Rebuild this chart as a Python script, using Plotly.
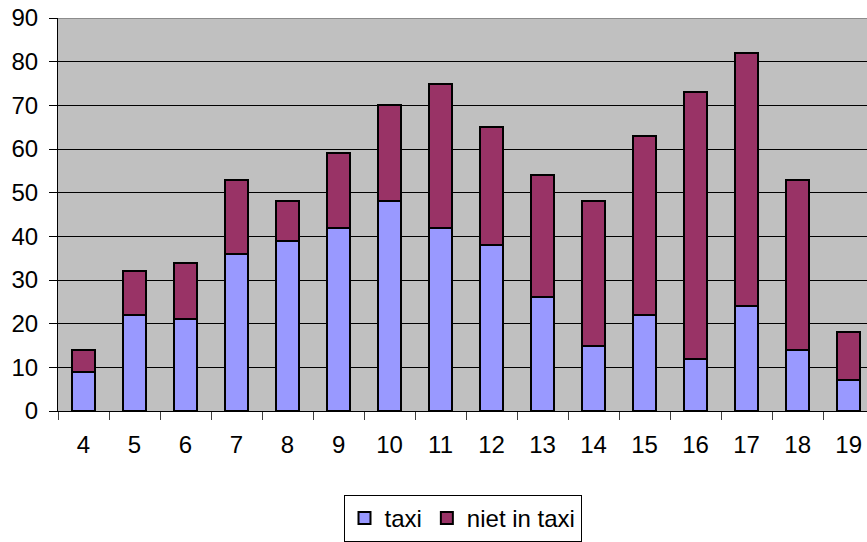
import plotly.graph_objects as go

categories = ["4", "5", "6", "7", "8", "9", "10", "11", "12", "13", "14", "15", "16", "17", "18", "19"]
taxi = [9, 22, 21, 36, 39, 42, 48, 42, 38, 26, 15, 22, 12, 24, 14, 7]
niet_in_taxi = [5, 10, 13, 17, 9, 17, 22, 33, 27, 28, 33, 41, 61, 58, 39, 11]

FONT = "Liberation Sans, Arial, sans-serif"

fig = go.Figure()
fig.add_trace(go.Bar(x=categories, y=taxi, name="taxi", width=0.45,
                     marker=dict(color="#9999FF", line=dict(color="black", width=2))))
fig.add_trace(go.Bar(x=categories, y=niet_in_taxi, name="niet in taxi", width=0.45,
                     marker=dict(color="#993366", line=dict(color="black", width=2))))

fig.update_layout(
    width=867, height=542,
    margin=dict(l=58, r=0, t=18, b=130),
    barmode="stack",
    plot_bgcolor="#C0C0C0",
    paper_bgcolor="white",
    font=dict(family=FONT, size=24, color="black"),
    showlegend=True,
    legend=dict(orientation="h", x=0.5, xanchor="center", y=-0.215, yanchor="top",
                bordercolor="black", borderwidth=1, bgcolor="white",
                font=dict(size=24), itemsizing="constant", traceorder="normal",
                itemwidth=30, tracegroupgap=0),
    xaxis=dict(type="category", range=[-0.5, 15.36], showgrid=False,
               showline=True, linecolor="black", linewidth=1,
               ticks="outside", tickson="boundaries", ticklen=8, tickcolor="#404040",
               tickfont=dict(size=24), ticklabelstandoff=12, fixedrange=True),
    yaxis=dict(range=[0, 90], dtick=10, showgrid=True, gridcolor="black", gridwidth=1,
               showline=True, linecolor="black", linewidth=1, zeroline=False,
               ticks="outside", ticklen=8, tickcolor="black",
               tickfont=dict(size=24), ticklabelstandoff=6, fixedrange=True),
)
fig.add_shape(type="line", xref="paper", yref="y", x0=0, x1=1, y0=90, y1=90,
              line=dict(color="#8C8C8C", width=2))

fig.write_html("out.html")
